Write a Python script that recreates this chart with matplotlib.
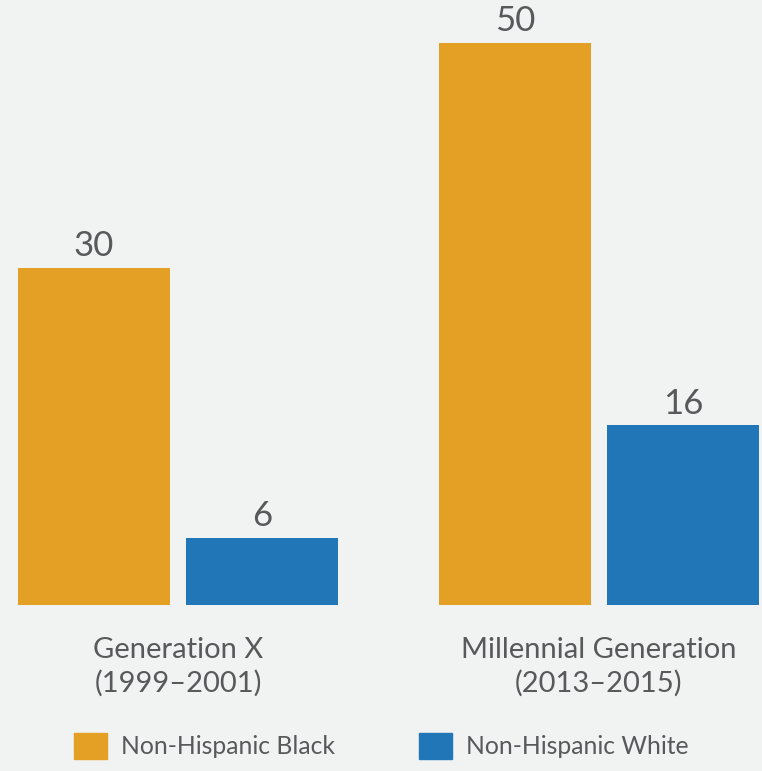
import numpy as np
import matplotlib.pyplot as plt
from matplotlib.patches import Patch

plt.rcParams['font.family'] = ['Lato', 'DejaVu Sans']

# data
groups = ['Generation X\n(1999–2001)', 'Millennial Generation\n(2013–2015)']
series = ['Non-Hispanic Black', 'Non-Hispanic White']
black = [30, 50]
white = [6, 16]

bg = '#f1f2f2'
txt = '#58595b'
colors = ['#e4a025', '#2176b8']

fig = plt.figure(figsize=(7.62, 7.71), dpi=100, facecolor=bg)
ax = fig.add_axes([0, (771 - 605) / 771, 1, 605 / 771])
ax.set_facecolor(bg)

x = np.arange(len(groups))
w = 152 / 421
off = 84 / 421
b1 = ax.bar(x - off, black, w, color=colors[0])
b2 = ax.bar(x + off, white, w, color=colors[1])

for bars in (b1, b2):
    ax.bar_label(bars, padding=4, fontsize=25, color=txt)

ax.set_xlim(-178 / 421, 1 + 163 / 421)
ax.set_ylim(0, 605 / 11.24)
ax.axis('off')
for a in ax.texts:
    a.set_clip_on(False)

# category labels under the groups
for xi, g in zip(x, groups):
    ax.annotate(g, (xi, 0), xytext=(0, -32), textcoords='offset pixels',
                ha='center', va='top', fontsize=21, color=txt, linespacing=1.32)

handles = [Patch(color=c) for c in colors]
fig.legend(handles, series, loc='center left', bbox_to_anchor=(52 / 762, 25 / 771),
           ncol=2, frameon=False, fontsize=17.8, labelcolor=txt,
           handlelength=1.34, handleheight=1.26, handletextpad=0.56, columnspacing=3.4)

plt.savefig('out.png', dpi=100, facecolor=bg)
